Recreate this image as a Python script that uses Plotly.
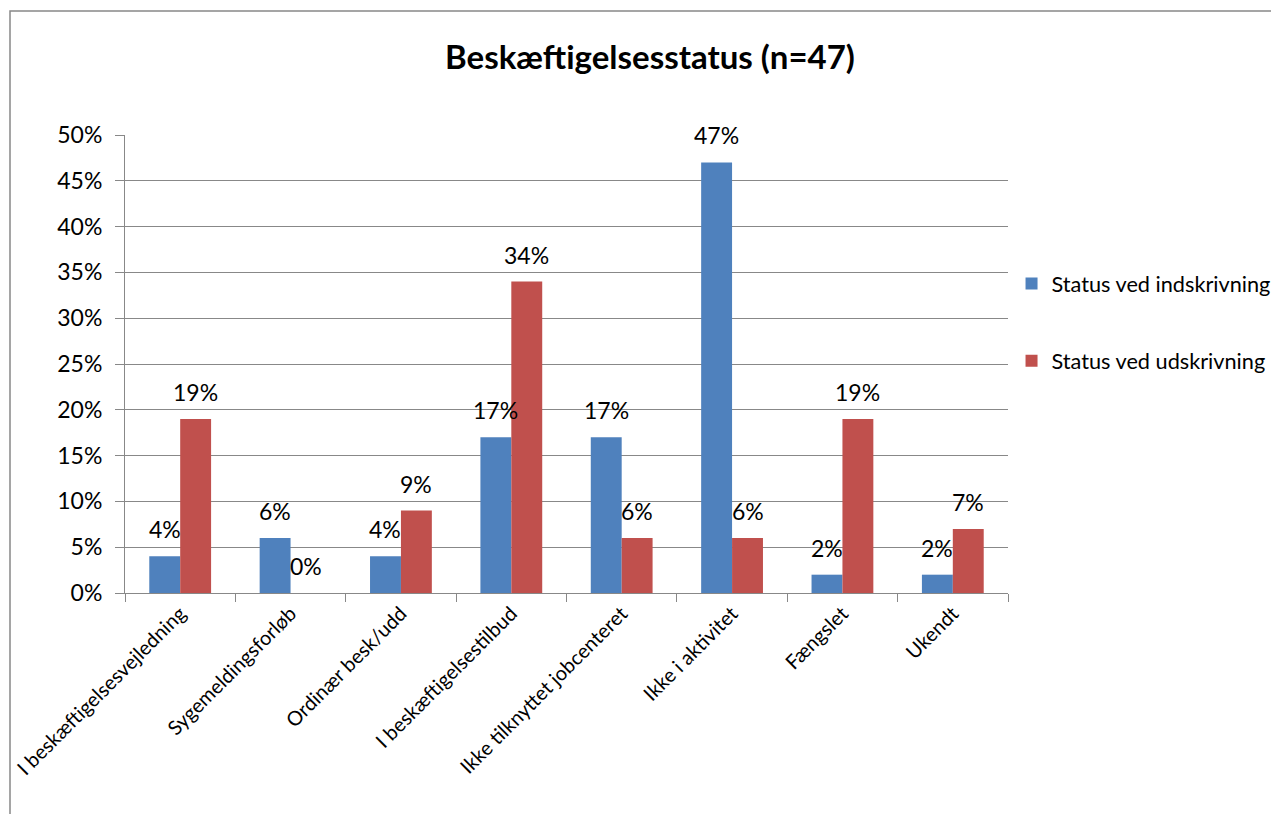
import plotly.graph_objects as go

categories = ["I beskæftigelsesvejledning", "Sygemeldingsforløb", "Ordinær besk/udd",
              "I beskæftigelsestilbud", "Ikke tilknyttet jobcenteret", "Ikke i aktivitet",
              "Fængslet", "Ukendt"]
indskrivning = [0.04, 0.06, 0.04, 0.17, 0.17, 0.47, 0.02, 0.02]
udskrivning = [0.19, 0.00, 0.09, 0.34, 0.06, 0.06, 0.19, 0.07]
series_names = ["Status ved indskrivning", "Status ved udskrivning"]
colors = ["#4F81BD", "#C0504D"]

FONT = "Lato, Open Sans, sans-serif"

# figure is offset by the page's 8px body margin
W, H = 1271, 806
L, T = 117, 127
PW, PH = 883, 458
BARGAP = 0.44
bar_w = PW / len(categories) * (1 - BARGAP) / 2

fig = go.Figure()
series = [indskrivning, udskrivning]
for name, vals, col, grp in zip(series_names, series, colors, ["a", "b"]):
    fig.add_trace(go.Bar(
        x=categories, y=vals, name=name, marker=dict(color=col, line=dict(width=0)),
        legendgroup=grp, cliponaxis=False,
    ))

# data labels above each bar
for si, vals in enumerate(series):
    shift = (si - 0.5) * bar_w
    for c, v in zip(categories, vals):
        fig.add_annotation(x=c, y=v, xref="x", yref="y", text=f"{v:.0%}",
                           showarrow=False, xshift=shift, yshift=27,
                           xanchor="center", yanchor="middle",
                           font=dict(family=FONT, size=23, color="black"))

fig.update_layout(
    width=W, height=H,
    paper_bgcolor="white", plot_bgcolor="white",
    margin=dict(l=L, r=W - L - PW, t=T, b=H - T - PH, autoexpand=False),
    barmode="group", bargap=BARGAP, bargroupgap=0,
    title=dict(text="<b>Beskæftigelsesstatus (n=47)</b>", x=(650 - 8) / W, xanchor="center",
               y=1 - 49 / H, yanchor="middle", font=dict(family=FONT, size=33, color="black")),
    font=dict(family=FONT, size=20, color="black"),
    legend=dict(x=1.004, xanchor="left", y=(585 - 255) / PH, yanchor="top",
                traceorder="grouped", tracegroupgap=46,
                font=dict(family=FONT, size=21.7, color="black"), itemwidth=30),
)
fig.update_yaxes(range=[0, 0.5], dtick=0.05, tickformat=".0%", showgrid=True,
                 gridcolor="#888888", gridwidth=1, showline=True, linecolor="#888888",
                 ticks="outside", ticklen=9, tickcolor="#888888", zeroline=False,
                 ticklabelstandoff=8,
                 tickfont=dict(family=FONT, size=23))
fig.update_xaxes(showline=True, linecolor="#888888", ticks="outside", ticklen=8,
                 tickcolor="#888888", tickson="boundaries", tickangle=-45, showgrid=False,
                 tickfont=dict(family=FONT, size=20))

fig.add_shape(type="rect", xref="paper", yref="paper",
              x0=(2 - L) / PW, x1=(1300 - L) / PW,
              y0=(T + PH - 3) / PH, y1=(T + PH - 840) / PH,
              line=dict(color="#888888", width=1.5), fillcolor="rgba(0,0,0,0)", layer="below")

fig.write_html("out.html")
